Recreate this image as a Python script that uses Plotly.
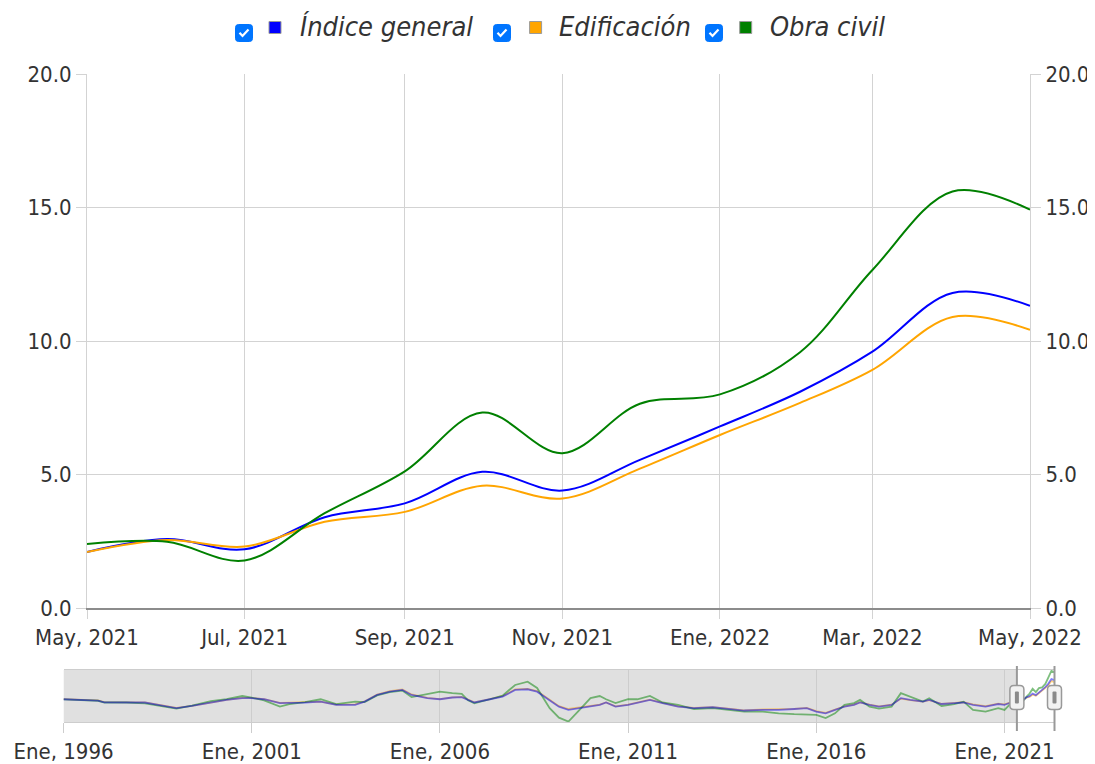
import pandas as pd
import plotly.graph_objects as go

# ---------------- data ----------------
series_names = ["Índice general", "Edificación", "Obra civil"]
series_colors = ["#0000ff", "#ffa500", "#008000"]

# history read from the navigator (irregular dates)
hist_dates = [
    "1996-01-01", "1996-06-01", "1996-12-01", "1997-02-01", "1997-09-01", "1998-03-01",
    "1998-09-01", "1999-01-01", "1999-06-01", "1999-12-01", "2000-05-01", "2000-10-01",
    "2001-01-01", "2001-05-01", "2001-10-01", "2002-01-01", "2002-06-01", "2002-11-01",
    "2003-04-01", "2003-10-01", "2004-01-01", "2004-05-01", "2004-09-01", "2005-01-01",
    "2005-04-01", "2005-09-01", "2006-01-01", "2006-05-01", "2006-08-01", "2006-10-01",
    "2006-12-01", "2007-05-01", "2007-09-01", "2008-01-01", "2008-05-01", "2008-08-01",
    "2008-12-01", "2009-03-01", "2009-06-01", "2009-09-01", "2010-01-01", "2010-04-01",
    "2010-06-01", "2010-09-01", "2011-01-01", "2011-04-01", "2011-08-01", "2011-12-01",
    "2012-05-01", "2012-10-01", "2013-04-01", "2013-09-01", "2014-02-01", "2014-08-01",
    "2015-01-01", "2015-06-01", "2015-10-01", "2016-01-01", "2016-04-01", "2016-07-01",
    "2016-10-01", "2017-01-01", "2017-03-01", "2017-06-01", "2017-09-01", "2018-01-01",
    "2018-04-01", "2018-07-01", "2018-11-01", "2019-01-01", "2019-05-01", "2019-09-01",
    "2019-12-01", "2020-03-01", "2020-07-01", "2020-11-01", "2021-01-01", "2021-03-01",
]
hist_general = [
    2.5, 2.2, 1.9, 1.1, 1.2, 1.0, -0.6, -1.6, -0.6, 1.0, 2.2, 3.0,
    3.0, 2.5, 0.7, 0.8, 0.9, 1.4, -0.1, -0.1, 1.4, 4.5, 6.0, 6.8,
    4.5, 3.0, 2.5, 3.3, 3.5, 2.2, 1.0, 2.5, 3.7, 6.8, 7.1, 6.0,
    2.2, -0.9, -2.4, -1.6, -0.6, -0.1, 1.0, -0.9, -0.1, 1.0, 2.2, 0.7,
    -0.9, -1.6, -1.2, -1.9, -2.7, -2.4, -2.4, -2.0, -1.6, -3.2, -4.0, -2.4,
    -0.9, -0.1, 1.0, -0.1, -0.9, -0.1, 3.0, 2.2, 1.4, 2.2, 0.3, 0.7,
    1.0, -0.1, -0.9, 0.3, -0.1, 1.0,
]
hist_edif = [
    2.6, 2.3, 2.0, 1.2, 1.3, 1.1, -0.5, -1.5, -0.6, 1.0, 2.2, 3.1,
    3.1, 2.6, 0.8, 0.9, 1.0, 1.4, 0.0, 0.1, 1.5, 4.6, 6.2, 7.0,
    4.7, 3.1, 2.6, 3.4, 3.6, 2.3, 1.1, 2.6, 3.9, 7.1, 7.3, 6.3,
    2.5, -0.7, -2.0, -1.4, -0.5, 0.0, 1.0, -0.8, 0.0, 1.1, 2.3, 0.8,
    -0.8, -1.5, -1.1, -1.8, -2.6, -2.2, -2.2, -1.9, -1.5, -3.0, -3.8, -2.3,
    -0.8, 0.0, 1.1, 0.0, -0.8, 0.0, 2.8, 2.1, 1.4, 2.1, 0.4, 0.8,
    1.1, 0.1, -0.7, 0.5, 0.1, 1.1,
]
hist_obra = [
    2.4, 2.0, 1.8, 1.0, 1.0, 0.6, -1.0, -1.8, -0.4, 1.6, 2.6, 4.0,
    3.2, 2.0, -0.9, 0.2, 1.2, 2.5, 0.3, 1.4, 1.2, 4.3, 5.8, 6.5,
    3.5, 4.8, 6.0, 5.3, 5.0, 2.0, 0.6, 2.5, 4.2, 9.1, 10.6, 7.7,
    -1.6, -6.0, -7.8, -3.2, 3.0, 4.0, 2.5, 0.7, 2.5, 2.5, 4.0, 1.0,
    -0.1, -2.0, -1.6, -2.4, -3.2, -3.2, -4.0, -4.4, -4.7, -4.7, -6.2, -4.0,
    -0.1, 0.7, 2.2, -0.9, -1.8, -0.9, 5.3, 3.7, 1.4, 3.0, -0.6, 0.3,
    1.4, -2.4, -3.2, -1.6, -2.4, 0.5,
]

# last twelve months (main chart)
recent_dates = [
    "2021-05-01", "2021-06-01", "2021-07-01", "2021-08-01", "2021-09-01", "2021-10-01",
    "2021-11-01", "2021-12-01", "2022-01-01", "2022-02-01", "2022-03-01", "2022-04-01",
    "2022-05-01",
]
recent_general = [2.1, 2.58, 2.2, 3.4, 3.92, 5.1, 4.4, 5.55, 6.8, 8.1, 9.6, 11.8, 11.32]
recent_edif = [2.1, 2.55, 2.3, 3.23, 3.6, 4.58, 4.1, 5.22, 6.48, 7.68, 8.92, 10.9, 10.42]
recent_obra = [2.4, 2.48, 1.78, 3.55, 5.12, 7.32, 5.8, 7.65, 8.0, 9.58, 12.66, 15.6, 14.92]

main_tick_dates = ["2021-05-01", "2021-07-01", "2021-09-01", "2021-11-01",
                   "2022-01-01", "2022-03-01", "2022-05-01"]
main_tick_text = ["May, 2021", "Jul, 2021", "Sep, 2021", "Nov, 2021",
                  "Ene, 2022", "Mar, 2022", "May, 2022"]
nav_tick_dates = ["1996-01-01", "2001-01-01", "2006-01-01", "2011-01-01",
                  "2016-01-01", "2021-01-01"]
nav_tick_text = ["Ene, 1996", "Ene, 2001", "Ene, 2006", "Ene, 2011",
                 "Ene, 2016", "Ene, 2021"]
y_ticks = [0, 5, 10, 15, 20]

# ---------------- figure ----------------
# the page has an 8px body margin, so the figure is 8px smaller and all
# screen positions below are given in window pixels and shifted by 8
OFF = 8
W, H = 1095 - OFF, 764 - OFF
FONT = "DejaVu Sans Condensed, Liberation Sans, sans-serif"
TXT = "#333333"


def px_x(p):
    return (p - OFF) / W


def px_y(p):
    return 1 - (p - OFF) / H


recent_series = [recent_general, recent_edif, recent_obra]
hist_series = [hist_general, hist_edif, hist_obra]

NAV_DOMAIN = [px_x(63.5), px_x(1054.5)]
nav_start, nav_end = pd.Timestamp(hist_dates[0]), pd.Timestamp(recent_dates[-1])


def nav_paper_x(d):
    frac = (pd.Timestamp(d) - nav_start) / (nav_end - nav_start)
    return NAV_DOMAIN[0] + frac * (NAV_DOMAIN[1] - NAV_DOMAIN[0])


fig = go.Figure()

# navigator lines (orange first so that blue and green show on top)
for idx in [1, 2, 0]:
    fig.add_trace(go.Scatter(
        x=hist_dates + recent_dates, y=hist_series[idx] + recent_series[idx],
        name=series_names[idx], mode="lines",
        line=dict(color=series_colors[idx], width=1.8), opacity=0.5,
        xaxis="x2", yaxis="y2", showlegend=False, hoverinfo="skip"))

# main lines
for name, col, r in zip(series_names, series_colors, recent_series):
    fig.add_trace(go.Scatter(
        x=recent_dates, y=r, name=name, mode="lines",
        line=dict(color=col, width=2, shape="spline", smoothing=1.0),
        xaxis="x", yaxis="y", showlegend=False))

# invisible trace for right axis
fig.add_trace(go.Scatter(x=[recent_dates[0]], y=[None], xaxis="x", yaxis="y3",
                         showlegend=False, hoverinfo="skip", mode="lines"))

GRID = "#d3d3d3"
fig.update_layout(
    width=W, height=H,
    margin=dict(l=0, r=0, t=0, b=0),
    paper_bgcolor="white", plot_bgcolor="white",
    showlegend=False,
    font=dict(family=FONT, size=22, color=TXT),
    xaxis=dict(
        domain=[px_x(87), px_x(1030)], anchor="y",
        range=[recent_dates[0], recent_dates[-1]],
        tickmode="array", tickvals=main_tick_dates, ticktext=main_tick_text,
        showgrid=True, gridcolor=GRID, gridwidth=1,
        ticks="outside", ticklen=9, tickcolor=GRID,
        showline=True, linecolor="#8c8c8c", linewidth=2,
        zeroline=False, fixedrange=True, automargin=False,
    ),
    yaxis=dict(
        domain=[px_y(608), px_y(74)], anchor="x",
        range=[0, 20], tickmode="array", tickvals=y_ticks, tickformat=".1f",
        showgrid=True, gridcolor=GRID, gridwidth=1,
        ticks="outside", ticklen=10, tickcolor=GRID,
        showline=True, linecolor=GRID, linewidth=1,
        zeroline=False, fixedrange=True, automargin=False,
    ),
    yaxis3=dict(
        overlaying="y", side="right", anchor="x",
        range=[0, 20], tickmode="array", tickvals=y_ticks, tickformat=".1f",
        showgrid=False,
        ticks="outside", ticklen=10, tickcolor=GRID,
        showline=True, linecolor=GRID, linewidth=1,
        zeroline=False, fixedrange=True, automargin=False,
    ),
    xaxis2=dict(
        domain=NAV_DOMAIN, anchor="y2",
        range=[hist_dates[0], recent_dates[-1]],
        tickmode="array", tickvals=nav_tick_dates, ticktext=nav_tick_text,
        showgrid=True, gridcolor="#cdcdcd", gridwidth=1,
        ticks="outside", ticklen=10, tickcolor="#cdcdcd",
        showline=True, mirror=True, linecolor="#cdcdcd", linewidth=1,
        zeroline=False, fixedrange=True, automargin=False,
    ),
    yaxis2=dict(
        domain=[px_y(722), px_y(670)], anchor="x2",
        range=[-8.0, 16.0],
        showticklabels=False, showgrid=False, zeroline=False, showline=False,
        ticks="", fixedrange=True,
    ),
)

shapes = []
# navigator mask (unselected part)
shapes.append(dict(type="rect", xref="x2", yref="y2 domain",
                   x0=hist_dates[0], x1=recent_dates[0], y0=0, y1=1,
                   fillcolor="#e0e0e0", line=dict(width=0), layer="below"))


def rrect(w, h, r):
    a, b = w / 2, h / 2
    return (f"M {-a + r},{-b} L {a - r},{-b} Q {a},{-b} {a},{-b + r} "
            f"L {a},{b - r} Q {a},{b} {a - r},{b} L {-a + r},{b} "
            f"Q {-a},{b} {-a},{b - r} L {-a},{-b + r} Q {-a},{-b} {-a + r},{-b} Z")


# navigator handles at the selected range (paper refs so they are not clipped)
for d in [recent_dates[0], recent_dates[-1]]:
    hx = nav_paper_x(d)
    shapes.append(dict(type="line", xref="paper", yref="paper", x0=hx, x1=hx,
                       y0=px_y(731), y1=px_y(666),
                       line=dict(color="#999999", width=2), layer="above"))
    shapes.append(dict(type="path", xref="paper", yref="paper",
                       xsizemode="pixel", ysizemode="pixel",
                       xanchor=hx, yanchor=px_y(697.5),
                       path=rrect(14, 24, 4),
                       fillcolor="#f2f2f2", line=dict(color="#999999", width=1.5),
                       layer="above"))
    shapes.append(dict(type="path", xref="paper", yref="paper",
                       xsizemode="pixel", ysizemode="pixel",
                       xanchor=hx, yanchor=px_y(697.5),
                       path=rrect(4, 12, 1),
                       fillcolor="#8a8a8a", line=dict(width=0), layer="above"))

# custom legend: checkbox + square + italic label
legend_check_x = [244, 502, 714]
legend_square_x = [275, 535.6, 745.7]
legend_text_x = [298, 557, 768]
annotations = []
for i, (name, col) in enumerate(zip(series_names, series_colors)):
    cx = px_x(legend_check_x[i])
    shapes.append(dict(type="path", xref="paper", yref="paper",
                       xsizemode="pixel", ysizemode="pixel",
                       xanchor=cx, yanchor=px_y(33),
                       path=rrect(17, 17, 3),
                       fillcolor="#0075ff", line=dict(color="#0075ff", width=1),
                       layer="above"))
    shapes.append(dict(type="path", xref="paper", yref="paper",
                       xsizemode="pixel", ysizemode="pixel",
                       xanchor=cx, yanchor=px_y(33),
                       path="M -4.5,0.2 L -1.5,-3 L 4.5,3.6",
                       line=dict(color="white", width=2.2), layer="above"))
    sx = legend_square_x[i]
    shapes.append(dict(type="rect", xref="paper", yref="paper",
                       x0=px_x(sx - 6), x1=px_x(sx + 6),
                       y0=px_y(33.5), y1=px_y(21.5),
                       fillcolor=col, line=dict(color="#9a9a9a", width=1),
                       layer="above"))
    annotations.append(dict(xref="paper", yref="paper",
                            x=px_x(legend_text_x[i]), y=px_y(27),
                            xanchor="left", yanchor="middle",
                            text=f"<i>{name}</i>", showarrow=False,
                            font=dict(family=FONT, size=27, color=TXT)))

fig.update_layout(shapes=shapes, annotations=annotations)

fig.write_html("out.html")
